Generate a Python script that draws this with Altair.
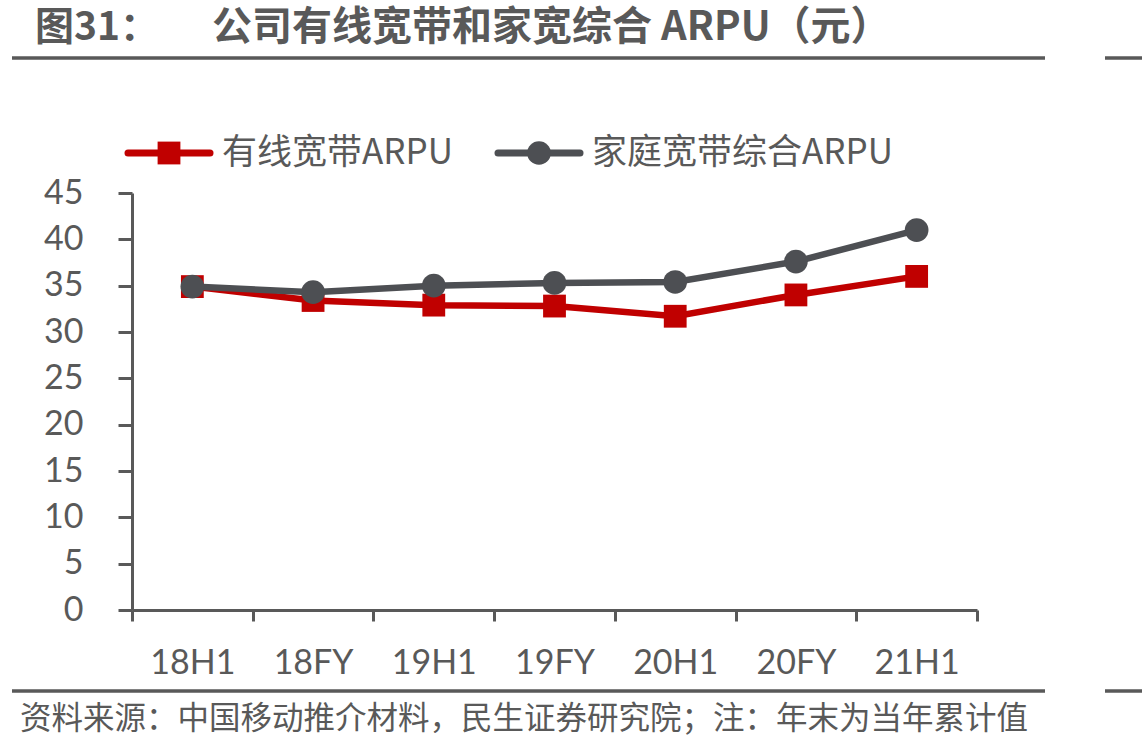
import altair as alt
import pandas as pd

# Half-year / full-year periods
periods = ["18H1", "18FY", "19H1", "19FY", "20H1", "20FY", "21H1"]

# ARPU (元)
wired_arpu = [34.9, 33.4, 32.9, 32.8, 31.7, 34.0, 36.0]
home_arpu = [34.9, 34.3, 35.0, 35.3, 35.4, 37.6, 41.0]

series_names = ["有线宽带ARPU", "家庭宽带综合ARPU"]
series_colors = ["#C00000", "#4D4F53"]
series_shapes = ["square", "circle"]
series_sizes = [520, 560]

title_left = "图31："
title_main = "公司有线宽带和家宽综合 ARPU（元）"
source_note = "资料来源：中国移动推介材料，民生证券研究院；注：年末为当年累计值"

TEXT = "#595959"
CJK = "Noto Sans CJK SC"
NUM = "Lato"

W, H = 845, 417
LEFT, TOP = 132, 193

rows = []
for name, vals in zip(series_names, [wired_arpu, home_arpu]):
    for p, v in zip(periods, vals):
        rows.append({"period": p, "arpu": v, "series": name})
df = pd.DataFrame(rows)

x_enc = alt.X(
    "period:N",
    sort=periods,
    bandPosition=0.5,
    scale=alt.Scale(type="band", paddingInner=0, paddingOuter=0),
    axis=alt.Axis(
        title=None,
        tickBand="extent",
        tickSize=11,
        tickWidth=3,
        tickColor=TEXT,
        domainColor=TEXT,
        domainWidth=3,
        labelFont=NUM,
        labelFontSize=34,
        labelColor=TEXT,
        labelPadding=25,
        labelAngle=0,
        grid=False,
    ),
)
y_enc = alt.Y(
    "arpu:Q",
    scale=alt.Scale(domain=[0, 45], nice=False, zero=True),
    axis=alt.Axis(
        title=None,
        values=list(range(0, 46, 5)),
        tickSize=14,
        tickWidth=3,
        tickColor=TEXT,
        domainColor=TEXT,
        domainWidth=3,
        labelFont=NUM,
        labelFontSize=34,
        labelColor=TEXT,
        labelPadding=35,
        grid=False,
    ),
)

layers = []
for name, color, shape, size in zip(series_names, series_colors, series_shapes, series_sizes):
    base = alt.Chart(df).transform_filter(alt.datum.series == name)
    layers.append(
        base.mark_line(color=color, strokeWidth=6.5).encode(x=x_enc, y=y_enc)
    )
    layers.append(
        base.mark_point(color=color, shape=shape, size=size, filled=True, opacity=1).encode(
            x=x_enc, y=y_enc
        )
    )

one = alt.Data(values=[{}])

# Legend drawn above the plot
legend_starts = [128 - LEFT, 498 - LEFT]
legend_y = 153 - TOP
for name, color, shape, size, x0 in zip(
    series_names, series_colors, series_shapes, series_sizes, legend_starts
):
    layers.append(
        alt.Chart(one).mark_rule(color=color, strokeWidth=7, strokeCap="round").encode(
            x=alt.value(x0), x2=alt.value(x0 + 82), y=alt.value(legend_y)
        )
    )
    layers.append(
        alt.Chart(one).mark_point(color=color, shape=shape, size=size, filled=True, opacity=1).encode(
            x=alt.value(x0 + 41), y=alt.value(legend_y)
        )
    )
    layers.append(
        alt.Chart(one).mark_text(
            text=name, font=CJK, fontSize=35, color=TEXT, align="left", baseline="middle"
        ).encode(x=alt.value(x0 + 94), y=alt.value(legend_y))
    )

# Title, rules and source note
layers.append(
    alt.Chart(one).mark_text(
        text=title_left, font=CJK, fontSize=39, fontWeight="bold", color=TEXT,
        align="left", baseline="middle",
    ).encode(x=alt.value(35 - LEFT), y=alt.value(28 - TOP))
)
layers.append(
    alt.Chart(one).mark_text(
        text=title_main, font=CJK, fontSize=40, fontWeight="bold", color=TEXT,
        align="left", baseline="middle",
    ).encode(x=alt.value(212 - LEFT), y=alt.value(28 - TOP))
)
for yy in [58, 691]:
    layers.append(
        alt.Chart(one).mark_rule(color=TEXT, strokeWidth=3.5).encode(
            x=alt.value(12 - LEFT), x2=alt.value(1045 - LEFT), y=alt.value(yy - TOP)
        )
    )
    layers.append(
        alt.Chart(one).mark_rule(color=TEXT, strokeWidth=3.5).encode(
            x=alt.value(1105 - LEFT), x2=alt.value(1142 - LEFT), y=alt.value(yy - TOP)
        )
    )
layers.append(
    alt.Chart(one).mark_text(
        text=source_note, font=CJK, fontSize=31.5, color=TEXT, align="left", baseline="middle",
    ).encode(x=alt.value(20 - LEFT), y=alt.value(720 - TOP))
)

chart = (
    alt.layer(*layers)
    .properties(
        width=W,
        height=H,
        autosize=alt.AutoSizeParams(type="none"),
        padding={"left": LEFT, "top": TOP, "right": 1142 - LEFT - W, "bottom": 754 - TOP - H},
        background="white",
    )
    .configure_view(stroke=None)
)

chart.save("out.html", embed_options={"renderer": "svg", "actions": False})
